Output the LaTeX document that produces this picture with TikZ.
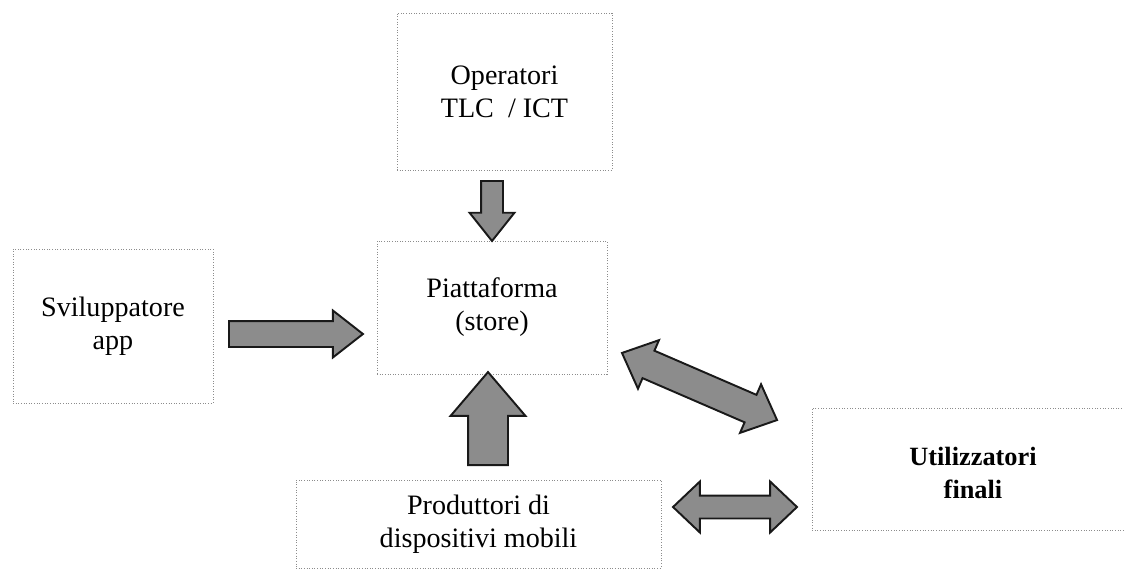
\documentclass[tikz,border=0pt]{standalone}
\usepackage{fontspec}
\setmainfont{Liberation Serif}
\usetikzlibrary{shapes.arrows}

\tikzset{
  box/.style = {draw=black!45, densely dotted, line width=0.5pt, align=center, font=\fontsize{16}{18.8}\selectfont},
  fatarrow/.style = {single arrow, draw=black!90, fill=black!45, line width=1.1pt, inner xsep=0pt},
  fatdouble/.style = {double arrow, draw=black!90, fill=black!45, line width=1.1pt, inner xsep=0pt}
}

\begin{document}
\begin{tikzpicture} [x = 0.02cm, y = -0.02cm]
\useasboundingbox (0, 0) rectangle (1124, 568);
\node[box, minimum width = 4.3cm, minimum height = 3.14cm] (operatori) at (504.5, 91.5) {Operatori\\TLC\ \ / ICT};
\node[box, minimum width = 4.0cm, minimum height = 3.08cm] (sviluppatore) at (113, 326) {Sviluppatore\\app};
\node[box, minimum width = 4.6cm, minimum height = 2.66cm] (piattaforma) at (492, 307.5) {Piattaforma\\(store)};
\node[box, minimum width = 7.3cm, minimum height = 1.76cm] (produttori) at (478.5, 524) {Produttori di\\dispositivi mobili};
\node[box, minimum width = 6.44cm, minimum height = 2.44cm] (utilizzatori) at (973, 469) {};
\node[align = center, font = \fontsize{15}{19.3}\selectfont\bfseries] (utilizzatoriTxt) at (973, 473) {Utilizzatori\\finali};
\node[fatarrow, anchor = tail, minimum height = 2.68cm, minimum width = 0.9cm, inner ysep = 0.24cm, single arrow head extend = 0.21cm, single arrow tip angle = 76] (svilArrow) at (228, 334) {};
\node[fatarrow, anchor = tail, rotate = -90, minimum height = 1.2cm, minimum width = 0.86cm, inner ysep = 0.2cm, single arrow head extend = 0.23cm, single arrow tip angle = 77] (opArrow) at (492, 180) {};
\node[fatarrow, anchor = tail, rotate = 90, minimum height = 1.86cm, minimum width = 1.46cm, inner ysep = 0.38cm, single arrow head extend = 0.35cm, single arrow tip angle = 81] (prodArrow) at (488, 466) {};
\node[fatdouble, rotate = -23.4, minimum height = 3.38cm, minimum width = 1.02cm, inner ysep = 0.28cm, double arrow head extend = 0.23cm, double arrow tip angle = 85] (storeArrow) at (699.5, 386.5) {};
\node[fatdouble, minimum height = 2.48cm, minimum width = 0.98cm, inner ysep = 0.21cm, double arrow head extend = 0.28cm, double arrow tip angle = 87] (utilArrow) at (735, 507) {};
\end{tikzpicture}
\end{document}
